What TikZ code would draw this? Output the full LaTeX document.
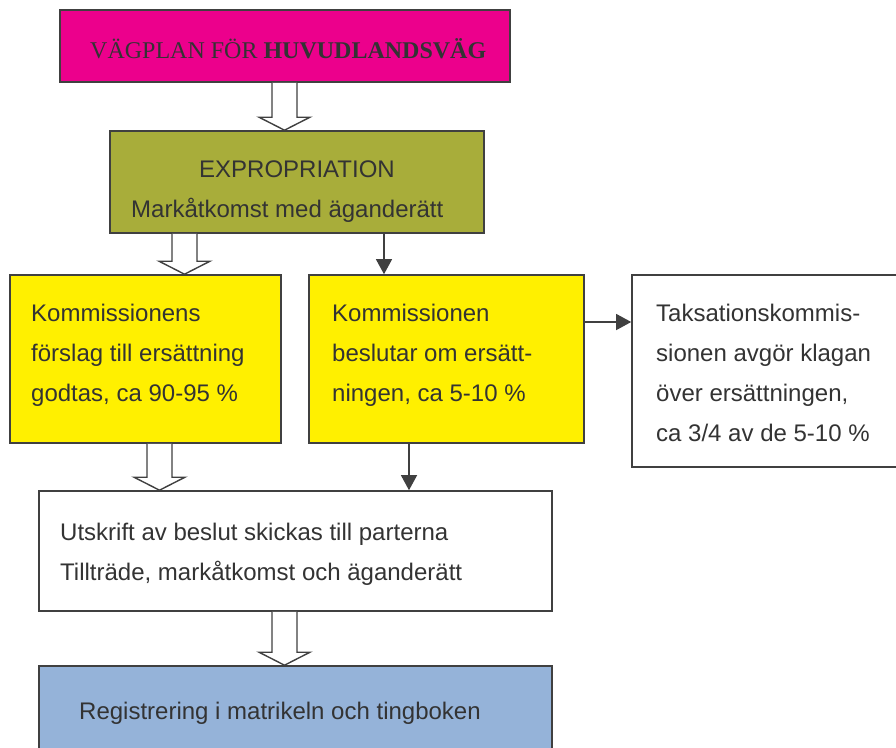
\documentclass[tikz,border=0pt]{standalone}
\usepackage{fontspec}
\setmainfont{Liberation Sans}
\newfontfamily\serifhead{Liberation Serif}
\usetikzlibrary{arrows.meta,calc}

\definecolor{planpink}{HTML}{EC008C}
\definecolor{exproolive}{HTML}{A8AD3A}
\definecolor{kommyellow}{HTML}{FFF000}
\definecolor{regblue}{HTML}{95B3D9}
\definecolor{edgegray}{HTML}{404040}
\definecolor{txtgray}{HTML}{333333}

% hollow block arrow: #1 = x, #2 = start anchor, #3 = tip anchor
\newcommand{\fatarrow}[3]{%
  \filldraw[hollowarrow] (#1-12.5,0 |- #2) -- ($(#1,0 |- #3)+(-12.5,-13)$)
    -- ($(#1,0 |- #3)+(-25.5,-13)$) -- (#1,0 |- #3)
    -- ($(#1,0 |- #3)+(25.5,-13)$) -- ($(#1,0 |- #3)+(12.5,-13)$)
    -- (#1+12.5,0 |- #2);}

\begin{document}
\begin{tikzpicture}[x=1pt,y=-1pt,
    box/.style={draw=edgegray,line width=1.6pt,rectangle,inner sep=0pt},
    txt/.style={anchor=base west,inner sep=0pt,text=txtgray,font=\fontsize{24}{28}\selectfont},
    linkarrow/.style={draw=edgegray,line width=1.2pt,-{Triangle[length=15pt,width=16pt]}},
    hollowarrow/.style={draw=edgegray,fill=white,line width=1.4pt}]

    \useasboundingbox (0,0) rectangle (896,747);
    \clip (0,0) rectangle (896,747);

    % boxes
    \node[box,fill=planpink,minimum width=450pt,minimum height=72pt] (plan) at (285,46) {};
    \node[box,fill=exproolive,minimum width=374pt,minimum height=102pt] (expro) at (297,182) {};
    \node[box,fill=kommyellow,minimum width=271pt,minimum height=168pt] (accept) at (145.5,359) {};
    \node[box,fill=kommyellow,minimum width=275pt,minimum height=168pt] (decide) at (446.5,359) {};
    \node[box,fill=white,minimum width=278pt,minimum height=192pt] (appeal) at (771,371) {};
    \node[box,fill=white,minimum width=513pt,minimum height=120pt] (notice) at (295.5,551) {};
    \node[box,fill=regblue,minimum width=513pt,minimum height=94pt] (register) at (295.5,713) {};

    % texts
    \node[txt,font=\serifhead\fontsize{24}{28}\selectfont] (planTxt) at (90,58) {VÄGPLAN FÖR \textbf{HUVUDLANDSVÄG}};
    \node[txt,anchor=base] (exproTxt) at (297,177) {EXPROPRIATION};
    \node[txt] (exproSub) at (131,217) {Markåtkomst med äganderätt};
    \foreach \row [count=\i] in {Kommissionens, förslag till ersättning, {godtas, ca 90-95 \%}}
      \node[txt] (accept\i) at (31,281+40*\i) {\row};
    \foreach \row [count=\i] in {Kommissionen, beslutar om ersätt-, {ningen, ca 5-10 \%}}
      \node[txt] (decide\i) at (332,281+40*\i) {\row};
    \foreach \row [count=\i] in {Taksationskommis-, sionen avgör klagan, {över ersättningen,}, ca 3/4 av de 5-10 \%}
      \node[txt] (appeal\i) at (656,281+40*\i) {\row};
    \node[txt] (notice1) at (60,540) {Utskrift av beslut skickas till parterna};
    \node[txt] (notice2) at (60,580) {Tillträde, markåtkomst och äganderätt};
    \node[txt] (registerTxt) at (79,719) {Registrering i matrikeln och tingboken};

    % connectors
    \fatarrow{284.5}{plan.south}{expro.north}
    \fatarrow{184.5}{expro.south}{accept.north}
    \fatarrow{159.5}{accept.south}{notice.north}
    \fatarrow{284.5}{notice.south}{register.north}
    \draw[linkarrow] (384,0 |- expro.south) -- (384,0 |- decide.north);
    \draw[linkarrow] (decide.east |- 0,322) -- (appeal.west |- 0,322);
    \draw[linkarrow] (409,0 |- decide.south) -- (409,0 |- notice.north);
\end{tikzpicture}
\end{document}
